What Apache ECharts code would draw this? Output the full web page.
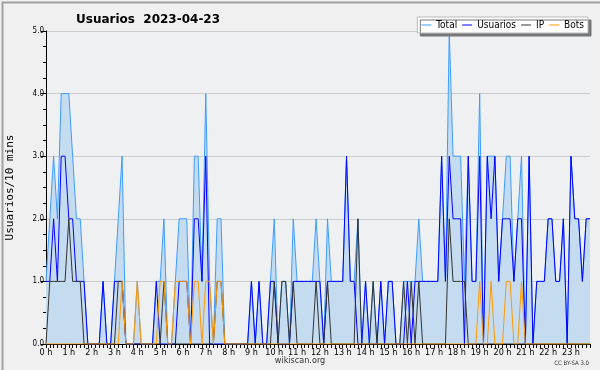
<!DOCTYPE html>
<html><head><meta charset="utf-8">
<script src="https://cdn.jsdelivr.net/npm/echarts@6/dist/echarts.min.js"></script>
<style>html,body{margin:0;padding:0;background:#f0f0f0}#c{width:600px;height:370px}</style>
</head><body><div id="c"></div>
<script>
var hours = ["0 h","1 h","2 h","3 h","4 h","5 h","6 h","7 h","8 h","9 h","10 h","11 h","12 h","13 h","14 h","15 h","16 h","17 h","18 h","19 h","20 h","21 h","22 h","23 h"];
var yTicks = ["0.0","1.0","2.0","3.0","4.0","5.0"];
var totalVals = [1,2,3,2,4,4,4,3,2,2,1,0, 0,0,0,1,0,0,1,2,3,0,0,0, 1,0,0,0,0,1,1,2,0,0,1,2, 2,2,0,3,3,1,4,1,0,2,2,0, 0,0,0,0,0,0,1,0,1,0,0,1, 2,0,1,1,0,2,1,1,1,1,1,2, 1,0,2,1,1,1,1,3,1,1,2,0, 1,0,1,0,1,0,1,1,0,0,1,1, 1,1,2,1,1,1,1,1,3,1,5,3, 3,3,1,3,1,1,4,0,3,3,3,1, 2,3,3,1,2,3,0,3,0,1,1,1, 2,2,1,1,2,0,3,2,2,1,2,2];
var usuariosVals = [1,1,2,1,3,3,2,2,1,1,1,0, 0,0,0,1,0,0,1,1,1,0,0,0, 0,0,0,0,0,1,0,0,0,0,0,1, 1,1,0,2,2,1,3,0,0,0,0,0, 0,0,0,0,0,0,1,0,1,0,0,1, 1,0,0,0,0,1,1,1,1,1,1,1, 1,0,1,1,1,1,1,3,1,1,0,0, 1,0,0,0,1,0,1,1,0,0,0,1, 0,1,1,1,1,1,1,1,3,1,3,2, 2,2,0,3,1,1,3,0,3,2,3,1, 2,2,2,1,2,2,0,3,0,1,1,1, 2,2,1,1,2,0,3,2,2,1,2,2];
var ipVals = [0,1,1,1,1,1,2,1,1,1,0,0, 0,0,0,0,0,0,0,1,1,0,0,0, 0,0,0,0,0,0,0,1,0,0,0,0, 0,0,0,0,0,0,0,0,0,1,1,0, 0,0,0,0,0,0,0,0,0,0,0,0, 1,0,1,1,0,1,0,0,0,0,0,1, 0,0,1,0,0,0,0,0,0,0,2,0, 0,0,1,0,0,0,0,0,0,0,1,0, 1,0,1,0,0,0,0,0,0,0,2,1, 1,1,1,0,0,0,0,0,0,0,0,0, 0,0,0,0,0,0,0,0,0,0,0,0, 0,0,0,0,0,0,0,0,0,0,0,0];
var botsVals = [0,0,0,0,0,0,0,0,0,0,0,0, 0,0,0,0,0,0,0,0,1,0,0,0, 1,0,0,0,0,0,1,1,0,0,1,1, 1,1,0,1,1,0,1,1,0,1,1,0, 0,0,0,0,0,0,0,0,0,0,0,0, 0,0,0,0,0,0,0,0,0,0,0,0, 0,0,0,0,0,0,0,0,0,0,0,0, 0,0,0,0,0,0,0,0,0,0,0,0, 0,0,0,0,0,0,0,0,0,0,0,0, 0,0,0,0,0,0,1,0,0,1,0,0, 0,1,1,0,0,1,0,0,0,0,0,0, 0,0,0,0,0,0,0,0,0,0,0,0];
var slots = [];
for (var h = 0; h < 24; h++) for (var m = 0; m < 6; m++) slots.push(h * 6 + m);

var chart = echarts.init(document.getElementById('c'), null, {renderer: 'canvas'});
var F = 'DejaVu Sans';
var FC = '"DejaVu Sans Condensed", "DejaVu Sans"';
function mk(name, data, color, z, area) {
  var s = {name: name, type: 'line', data: data, symbol: 'none', z: z, animation: false,
    lineStyle: {color: color, width: 1}, itemStyle: {color: color}};
  if (area) s.areaStyle = {color: '#c5dcf0', opacity: 1};
  return s;
}
chart.setOption({
  backgroundColor: '#f0f0f0',
  animation: false,
  title: {text: 'Usuarios  2023-04-23', left: 71, top: 9,
    textStyle: {fontFamily: F, fontSize: 12, fontWeight: 'bold', color: '#000'}},
  legend: {right: 12, top: 17, padding: [3, 4, 3, 4], itemGap: 5, itemWidth: 10, itemHeight: 1,
    backgroundColor: '#fff', borderColor: '#bbb', borderWidth: 1,
    shadowColor: '#777', shadowOffsetX: 3, shadowOffsetY: 3, shadowBlur: 0,
    icon: 'rect', textStyle: {fontFamily: FC, fontSize: 10, color: '#000'},
    data: ['Total', 'Usuarios', 'IP', 'Bots']},
  grid: {left: 46, right: 10, top: 31, bottom: 26, show: true, backgroundColor: '#eef0f2', borderWidth: 0,
    containLabel: false, outerBoundsMode: 'none'},
  xAxis: {type: 'category', data: slots, boundaryGap: false,
    axisLine: {lineStyle: {color: '#000', width: 1}},
    axisTick: {interval: 0, length: 4, lineStyle: {color: '#000'}},
    axisLabel: {interval: function (i) { return i % 6 === 0; }, formatter: function (v, i) { return hours[Math.floor(i / 6)]; },
      fontFamily: FC, fontSize: 9, color: '#000', margin: 4},
    splitLine: {show: false}},
  yAxis: {type: 'value', min: 0, max: 5, interval: 1,
    name: 'Usuarios/10 mins', nameLocation: 'middle', nameGap: 30, nameRotate: 90,
    nameTextStyle: {fontFamily: 'DejaVu Sans Mono', fontSize: 11, color: '#000'},
    axisLine: {show: true, lineStyle: {color: '#000'}},
    axisTick: {show: true, length: 5, lineStyle: {color: '#000'}},
    minorTick: {show: true, splitNumber: 4, length: 3, lineStyle: {color: '#000'}},
    axisLabel: {formatter: function (v) { return yTicks[v]; }, fontFamily: FC, fontSize: 8, color: '#000', margin: 2},
    splitLine: {lineStyle: {color: '#cccccc', width: 1}}},
  graphic: [
    {type: 'rect', left: 0, top: 0, shape: {width: 599, height: 369}, style: {fill: 'none', stroke: '#a0a0a0', lineWidth: 2}, silent: true},
    {type: 'text', left: 'center', top: 356, style: {text: 'wikiscan.org', font: '9px ' + FC, fill: '#333'}},
    {type: 'text', right: 11, top: 360, style: {text: 'CC BY-SA 3.0', font: '6px ' + FC, fill: '#333'}}
  ],
  series: [
    mk('Total', totalVals, '#3d9cff', 1, true),
    mk('Usuarios', usuariosVals, '#0000ff', 2),
    mk('IP', ipVals, '#333333', 3),
    mk('Bots', botsVals, '#ff9900', 4)
  ]
});
</script></body></html>
